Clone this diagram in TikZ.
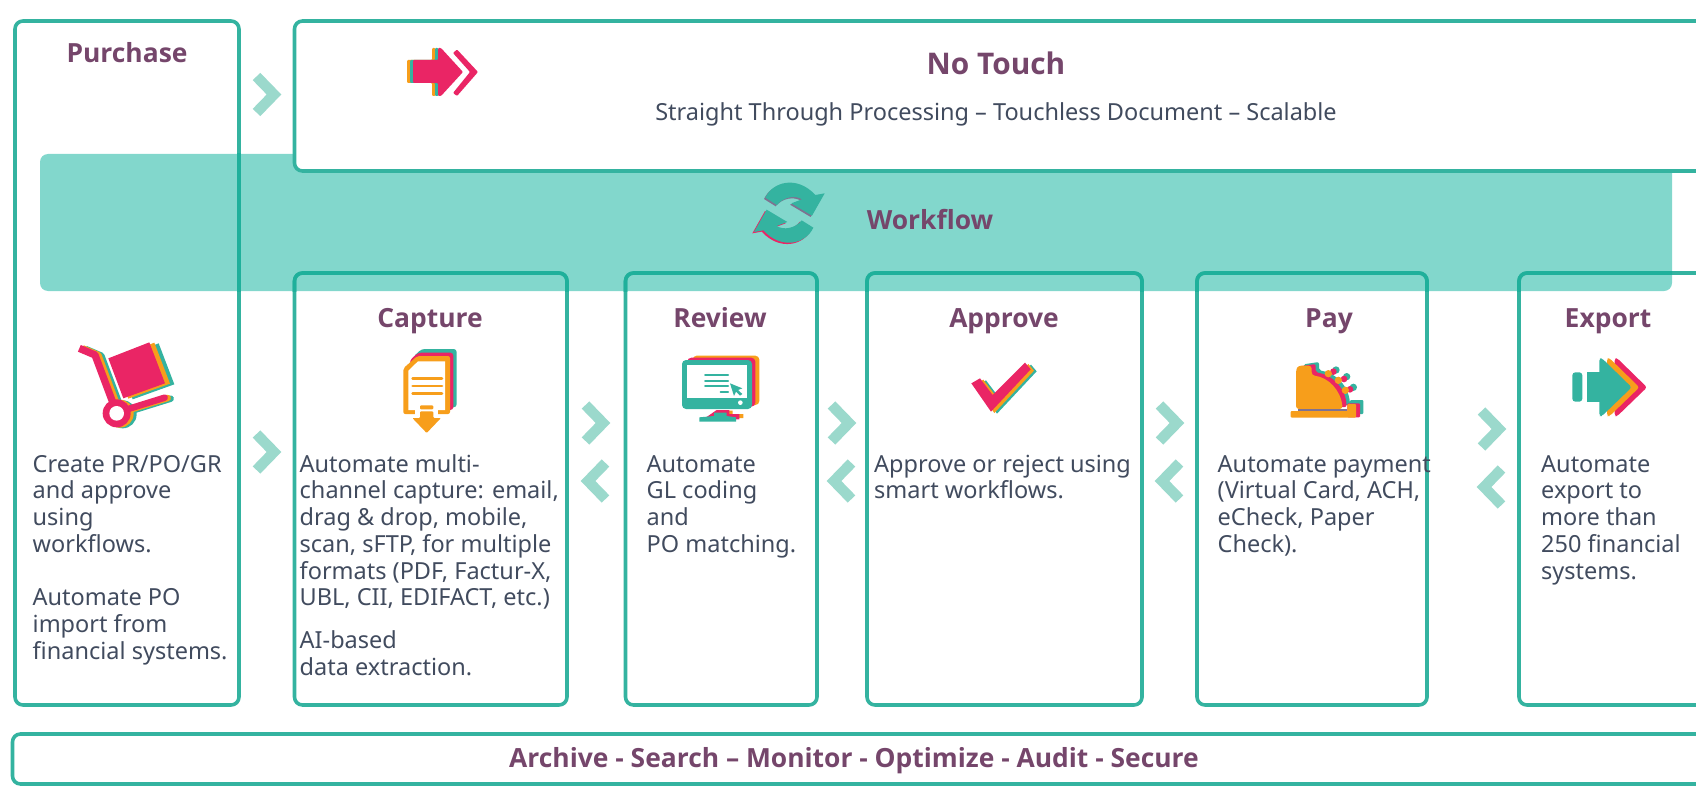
\documentclass[tikz,border=0pt]{standalone}
\usepackage{fontspec}
\setmainfont{Noto Sans}
\newfontfamily\headfont{Open Sans}
\definecolor{tealline}{HTML}{34B3A0}
\definecolor{tealdark}{HTML}{1FB09B}
\definecolor{bandc}{HTML}{82D7CC}
\definecolor{chevc}{HTML}{9BD9CC}
\definecolor{plum}{HTML}{75466B}
\definecolor{bodyc}{HTML}{414B5E}
\definecolor{pinkc}{HTML}{EA2565}
\definecolor{orangec}{HTML}{F79E1B}
\definecolor{greyc}{HTML}{7F7291}
\tikzset{
 stagebox/.style={draw=tealline,line width=3.6pt,rounded corners=8pt},
 stageover/.style={draw=tealdark,line width=3.6pt,rounded corners=8pt},
 chev/.style={draw=chevc,line width=10.5pt,line join=miter,line cap=butt},
 titletext/.style={anchor=base,inner sep=0pt,text=plum,font=\headfont\fontsize{26.4}{30}\selectfont\bfseries},
 bodytext/.style={anchor=north west,inner sep=0pt,align=left,text=bodyc,font=\fontsize{23.5}{26.7}\selectfont},
}
\newcommand{\fstline}{\rule{0pt}{20pt}}
\begin{document}
\begin{tikzpicture}[x=1pt,y=-1pt]
\path[use as bounding box] (0,0) rectangle (1696,786);
\clip (0,0) rectangle (1696,786);
% band
\fill[bandc,rounded corners=8pt] (40,154) rectangle (1672,291);
% boxes
\draw[stagebox,fill=white] (294.5,21) rectangle (1760,171);
\draw[stagebox] (15,21) rectangle (239,705);
\draw[stagebox] (294.5,273) rectangle (567,705);
\draw[stagebox] (625.5,273) rectangle (817,705);
\draw[stagebox] (867,273) rectangle (1142,705);
\draw[stagebox] (1197,273) rectangle (1427,705);
\draw[stagebox] (1519,273) rectangle (1760,705);
\draw[stagebox] (12.5,734) rectangle (1760,784);
\begin{scope}
\clip (40,154) rectangle (1672,291);
\draw[stageover] (15,21) rectangle (239,705);
\draw[stageover] (294.5,273) rectangle (567,705);
\draw[stageover] (625.5,273) rectangle (817,705);
\draw[stageover] (867,273) rectangle (1142,705);
\draw[stageover] (1197,273) rectangle (1427,705);
\draw[stageover] (1519,273) rectangle (1760,705);
\end{scope}
% chevrons
\draw[chev] (256.5,76.5)--(274,94.5)--(256.5,112.5);
\draw[chev] (256.5,434)--(274,452)--(256.5,470);
\foreach \xa/\ya in {581/423,827/423,1155/423,1477/429}{
 \draw[chev] (\xa+4.5,\ya-18)--(\xa+22,\ya)--(\xa+4.5,\ya+18);
 \draw[chev] (\xa+24.5,\ya+40)--(\xa+7,\ya+58)--(\xa+24.5,\ya+76);
}
% titles
\node[titletext] (purchase) at (127,63) {Purchase};
\node[titletext,font=\headfont\fontsize{29.8}{34}\selectfont\bfseries] (notouch) at (996,74.5) {No Touch};
\node[anchor=base,inner sep=0pt,text=bodyc,font=\fontsize{23.5}{28}\selectfont] (sub) at (996,121) {Straight Through Processing – Touchless Document – Scalable};
\node[titletext] (workflow) at (930,229.5) {Workflow};
\node[titletext] (capture) at (430,327) {Capture};
\node[titletext] (review) at (720,327) {Review};
\node[titletext] (approve) at (1004,327) {Approve};
\node[titletext] (pay) at (1329,327) {Pay};
\node[titletext] (export) at (1608,327) {Export};
\node[titletext] (archive) at (854,767) {Archive - Search – Monitor - Optimize - Audit - Secure};
% body texts
\node[bodytext] (t1) at (32.5,452) {\fstline Create PR/PO/GR\\and approve\\using\\workflows.\\[26.7pt]Automate PO\\import from\\financial systems.};
\node[bodytext] (t2) at (299.5,452) {\fstline Automate multi-\\channel capture: email,\\drag \& drop, mobile,\\scan, sFTP, for multiple\\formats (PDF, Factur-X,\\UBL, CII, EDIFACT, etc.)\\[16pt]AI-based\\data extraction.};
\node[bodytext] (t3) at (646.5,452) {\fstline Automate\\GL coding\\and\\PO matching.};
\node[bodytext] (t4) at (874,452) {\fstline Approve or reject using\\smart workflows.};
\node[bodytext] (t5) at (1217.5,452) {\fstline Automate payment\\(Virtual Card, ACH,\\eCheck, Paper\\Check).};
\node[bodytext] (t6) at (1541,452) {\fstline Automate\\export to\\more than\\250 financial\\systems.};
% no touch arrow icon
\begin{scope}
\foreach \dx/\c in {-6/orangec,-3/tealline,0/pinkc}{
 \fill[\c,rounded corners=1pt] (413+\dx,60)--(438+\dx,60)--(438+\dx,48)--(441+\dx,48)--(463+\dx,72)--(441+\dx,96)--(438+\dx,96)--(438+\dx,83)--(413+\dx,83)--cycle;
}
\fill[pinkc,rounded corners=1pt] (453,53)--(457,49.5)--(478,72)--(457,96)--(453,93)--(470,72)--cycle;
\end{scope}
% workflow icon
\begin{scope}[shift={(702,150)},scale=1/3]
\def\toparrow{(190,143) .. controls (212,95) and (285,75) .. (340,135) -- (368,130) -- (330,197) -- (268,160) -- (300,148) .. controls (280,135) and (245,140) .. (225,165) -- cycle}
\fill[greyc,shift={(-4,4)}] \toparrow;
\fill[tealline] \toparrow;
\begin{scope}[shift={(524,376)},xscale=-1,yscale=-1]
\fill[pinkc,shift={(5,-4)}] \toparrow;
\fill[tealline] \toparrow;
\end{scope}
\end{scope}
% cart icon
\begin{scope}[shift={(60,330)},scale=1/3]
\foreach \dx/\dy/\ax/\c in {28/3/18/tealline,15/1/9/orangec,0/0/0/pinkc}{
 \begin{scope}[shift={(\dx,\dy)}]
 \fill[\c] (145,85)--(268,37)--(315,160)--(190,205)--cycle;
 \end{scope}
 \begin{scope}[shift={(\ax,\dy)}]
 \draw[\c,line width=7.3pt,line join=round] (58,55)--(105,75)--(165,235);
 \draw[\c,line width=6.5pt,line cap=round] (195,240)--(314,203);
 \fill[\c] (170,250) circle (42);
 \end{scope}
}
\fill[white] (170,250) circle (22);
\end{scope}
% document icon
\begin{scope}[shift={(60,330)},scale=1/3]
\fill[tealline,rounded corners=3pt] (1085,57)--(1190,57)--(1190,232)--(1060,232)--(1060,80)--cycle;
\fill[pinkc,rounded corners=3pt] (1075,68)--(1180,68)--(1180,240)--(1050,240)--(1050,90)--cycle;
\fill[orangec,rounded corners=2pt] (1072,78)--(1170,78)--(1170,252)--(1030,252)--(1030,115)--cycle;
\fill[white] (1074,94)--(1155,94)--(1155,240)--(1045,240)--(1045,122)--cycle;
\draw[orangec,line width=2.8pt,line cap=round] (1058,146)--(1146,146) (1058,168)--(1146,168) (1058,191)--(1146,191);
\fill[white] (1065,220)--(1135,220)--(1135,255)--(1065,255)--cycle;
\fill[orangec,rounded corners=1pt] (1080,226)--(1120,226)--(1120,238)--(1080,238)--cycle;
\fill[orangec,rounded corners=1pt] (1080,244)--(1120,244)--(1120,264)--(1143,264)--(1100,309)--(1057,264)--(1080,264)--cycle;
\end{scope}
% monitor icon
\begin{scope}[shift={(660,340)},scale=1/3]
\fill[orangec,rounded corners=4pt] (98,47)rectangle(298,195);
\fill[pinkc,rounded corners=4pt] (82,53)rectangle(286,200);
\fill[orangec] (175,212)--(218,212)--(218,222)--(250,222)--(250,234)--(160,234)--cycle;
\fill[pinkc] (170,210)--(208,210)--(208,222)--(238,222)--(238,238)--(130,238)--cycle;
\fill[tealline,rounded corners=4pt] (66,60)rectangle(276,207);
\fill[white] (82,76) rectangle (260,173);
\fill[tealline] (162,218)--(200,218)--(200,228)--(228,232)--(228,245)--(118,245)--(118,232)--(162,228)--cycle;
\fill[white] (241,188) circle (7);
\draw[tealline,line width=2pt,line cap=round] (135,105)--(204,105) (135,122)--(204,122) (135,139)--(204,139) (182,156)--(204,156);
\fill[tealline] (210,130)--(247,145)--(234,150)--(247,162)--(240,167)--(228,155)--(222,168)--cycle;
\end{scope}
% check icon
\begin{scope}[shift={(660,340)},scale=1/3]
\foreach \dx/\dy/\c in {18/6/tealline,10/4/orangec,0/0/pinkc}{
 \begin{scope}[shift={(\dx,\dy)}]
 \fill[\c] (934,130)--(960,115)--(998,165)--(1095,68)--(1112,88)--(993,215)--cycle;
 \end{scope}
}
\end{scope}
% register icon
\begin{scope}[shift={(1270,340)},scale=1/3]
\foreach \dx/\dy/\c in {22/-12/tealline,12/-6/pinkc}{
 \begin{scope}[shift={(\dx,\dy)}]
 \fill[\c,rounded corners=2pt] (78,85)--(125,78)--(125,103) .. controls (175,110) and (215,150) .. (218,207) -- (78,207)--cycle;
 \end{scope}
}
\fill[tealline,rounded corners=1pt] (240,180)rectangle(280,222);
\fill[pinkc,rounded corners=1pt] (232,190)rectangle(270,232);
\foreach \xa/\ya/\xb/\yb/\xc/\yc in {175/101/190/95/198/90,205/121/222/117/230/110,226/151/240/148/250/142}{
 \draw[tealline,line width=2pt] (\xa,\ya)--(\xc,\yc);
 \fill[tealline] (\xc,\yc) circle (11);
 \draw[pinkc,line width=2pt] (\xa,\ya)--(\xb,\yb);
 \fill[pinkc] (\xb,\yb) circle (10);
 \fill[orangec] (\xa,\ya) circle (11);
}
\fill[orangec,rounded corners=3pt] (78,90)--(84,77)--(125,77)--(125,106) .. controls (175,112) and (212,150) .. (218,207) -- (78,207)--cycle;
\fill[greyc] (85,207) rectangle (232,214);
\fill[orangec,rounded corners=1pt] (232,192) rectangle (258,233) (62,213) rectangle (258,233);
\end{scope}
% export icon
\begin{scope}[shift={(1270,340)},scale=1/3]
\fill[tealline,rounded corners=3pt] (907,97) rectangle (937,185);
\foreach \dx/\c in {46/pinkc,23/orangec,0/tealline}{
 \fill[\c,rounded corners=2.5pt] (988+\dx,55)--(996+\dx,55)--(1085+\dx,142)--(996+\dx,228)--(988+\dx,228)--cycle;
}
\fill[tealline] (950,97) rectangle (995,185);
\end{scope}
\end{tikzpicture}
\end{document}
